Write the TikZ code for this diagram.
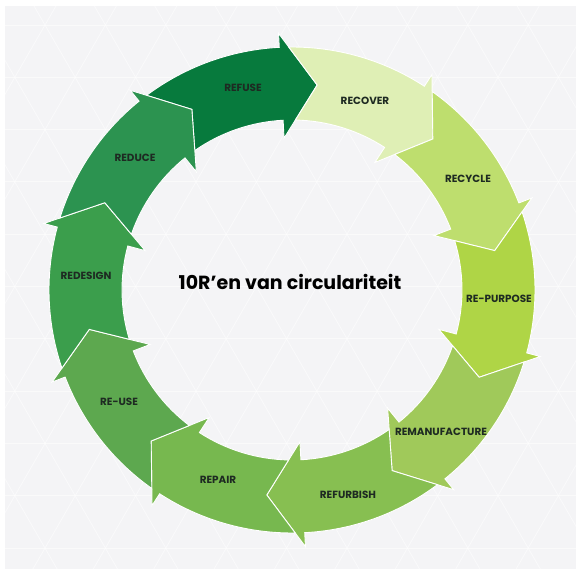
\documentclass[tikz,border=0pt]{standalone}
\usepackage{fontspec}
\setmainfont{Poppins}
\definecolor{bg}{HTML}{F4F4F6}
\definecolor{txt}{HTML}{1E2A22}
\definecolor{cRefuse}{HTML}{077A3D}
\definecolor{cRecover}{HTML}{DFEFB5}
\definecolor{cRecycle}{HTML}{BEDE6E}
\definecolor{cRepurpose}{HTML}{AFD546}
\definecolor{cRemanu}{HTML}{A0C95A}
\definecolor{cRefurb}{HTML}{87BF51}
\definecolor{cRepair}{HTML}{77B84F}
\definecolor{cReuse}{HTML}{5DA84F}
\definecolor{cRedesign}{HTML}{3B9E4C}
\definecolor{cReduce}{HTML}{2C9350}
\tikzset{
  latt/.style={white, line width=0.8pt, opacity=0.55},
  seg/.style={draw=white, line width=0.9pt, line join=miter},
  lab/.style={font=\fontsize{10.4}{11}\selectfont\bfseries, text=txt, inner sep=0pt},
  title/.style={font=\fontsize{19}{21}\selectfont\bfseries, text=black, inner sep=0pt}
}
\begin{document}
\begin{tikzpicture}[x=1pt,y=1pt]
\useasboundingbox (-292,-288) rectangle (284,290);
\fill[white] (-292,-288) rectangle (284,290);
\fill[bg] (-287,-279) rectangle (284,284);
\begin{scope}
\clip (-287,-279) rectangle (284,284);
\foreach \n in {0,...,10} {
  \pgfmathsetmacro\yy{265-52.3*\n}
  \draw[latt] (-300,\yy) -- (300,\yy);
}
\foreach \m in {-10,...,14} {
  \pgfmathsetmacro\xx{-247+60.4*\m}
  \draw[latt] (\xx,265) ++(-350,-606.2) -- ++(700,1212.4);
  \draw[latt] (\xx,265) ++(350,-606.2) -- ++(-700,1212.4);
}
\end{scope}
\foreach \k/\c in {0/cRefuse,1/cRecover,2/cRecycle,3/cRepurpose,4/cRemanu,5/cRefurb,6/cRepair,7/cReuse,8/cRedesign,9/cReduce} {
  \pgfmathsetmacro\bb{93-36*\k}
  \pgfmathsetmacro\pp{129-36*\k}
  \pgfmathsetmacro\tailtip{\pp-10}
  \pgfmathsetmacro\tailout{\pp-2.24}
  \pgfmathsetmacro\tailin{\pp-4.14}
  \pgfmathsetmacro\headtip{\bb-10}
  \filldraw[seg, fill=\c] (\tailtip:206.5) -- (\tailout:243)
    arc[start angle=\tailout, end angle=\bb, radius=243pt]
    -- (\bb:257) -- (\headtip:206.5) -- (\bb:152) -- (\bb:170)
    arc[start angle=\bb, end angle=\tailin, radius=170pt] -- cycle;
}
\node[lab] (refuse) at (-49,202) {REFUSE};
\node[lab] (recover) at (73,189) {RECOVER};
\node[lab] (recycle) at (176,111) {RECYCLE};
\node[lab] (repurpose) at (207,-9) {RE-PURPOSE};
\node[lab] (remanufacture) at (149,-142) {REMANUFACTURE};
\node[lab] (refurbish) at (56,-205) {REFURBISH};
\node[lab] (repair) at (-74,-190) {REPAIR};
\node[lab] (reuse) at (-173,-112) {RE-USE};
\node[lab] (redesign) at (-206,14) {REDESIGN};
\node[lab] (reduce) at (-157,132) {REDUCE};
\node[title] (center) at (-2,8) {10R’en van circulariteit};
\end{tikzpicture}
\end{document}
